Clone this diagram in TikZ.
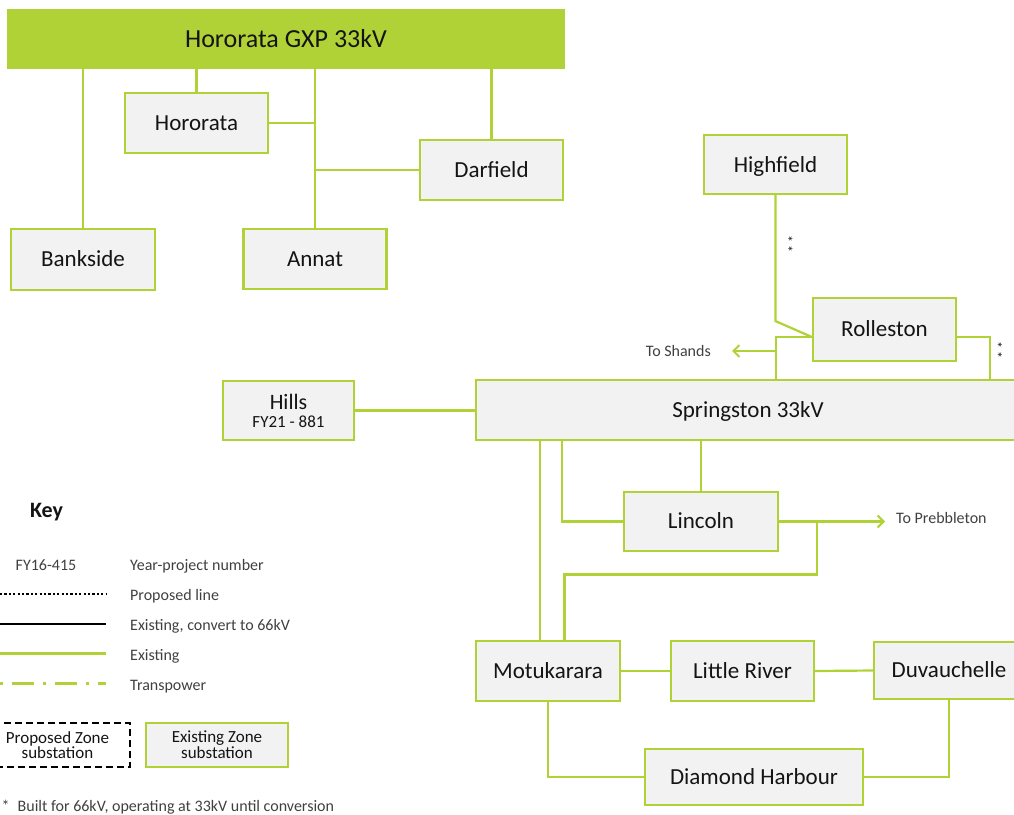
\documentclass[tikz,border=0pt]{standalone}
\usepackage{fontspec}
\setmainfont{Carlito}
\usetikzlibrary{arrows.meta,calc}
\definecolor{lime}{RGB}{176,210,54}
\definecolor{boxfill}{RGB}{242,242,242}
\definecolor{ink}{RGB}{20,20,20}
\definecolor{note}{RGB}{64,64,64}

\begin{document}
\begin{tikzpicture}[x=1pt,y=-1pt,
  line/.style={draw=lime, line width=2.2pt},
  sub/.style={draw=lime, fill=boxfill, line width=2.2pt, inner sep=0pt, text=ink,
    font=\fontsize{23}{27}\selectfont, text height=14.5pt, text depth=0pt},
  feed/.style={line, -{Straight Barb[length=6pt,width=12pt,line width=2pt]}},
  small/.style={text=note, font=\fontsize{16}{18}\selectfont, inner sep=0pt},
  stars/.style={text=ink, font=\fontsize{14}{14}\selectfont, inner sep=0pt, rotate=-90},
  keytext/.style={text=note, font=\fontsize{17}{14.4}\selectfont, inner sep=0pt, align=center},
]
\clip (0,0) rectangle (1014,814);

% ---- Hororata GXP group ----
\node[fill=lime, minimum width=558pt, minimum height=60pt, inner sep=0pt, text=ink,
  font=\fontsize{26}{30}\selectfont, text height=16.4pt, text depth=0pt] (gxp) at (286,39) {Hororata GXP 33kV};
\node[sub, minimum width=143pt, minimum height=60pt] (hororata) at (196.5,123) {Hororata};
\node[sub, minimum width=143pt, minimum height=60pt] (darfield) at (491.5,170) {Darfield};
\node[sub, minimum width=144pt, minimum height=61pt] (bankside) at (83,259.5) {Bankside};
\node[sub, minimum width=143pt, minimum height=60pt] (annat) at (315,259) {Annat};

\draw[line] (bankside.north) -- (bankside.north |- gxp.south);
\draw[line] (hororata.north) -- (hororata.north |- gxp.south);
\draw[line] (annat.north) -- (annat.north |- gxp.south);
\draw[line] (hororata.east) -- (hororata.east -| annat.north);
\draw[line] (darfield.west) -- (darfield.west -| annat.north);
\draw[line] (darfield.north) -- (darfield.north |- gxp.south);

% ---- Springston group ----
\node[sub, minimum width=143pt, minimum height=59pt, text height=16pt] (highfield) at (775.5,164.5) {Highfield};
\node[sub, minimum width=143pt, minimum height=63pt] (rolleston) at (884.5,329.5) {Rolleston};
\node[sub, minimum width=544pt, minimum height=60pt] (springston) at (748,410) {Springston 33kV};
\node[sub, minimum width=131pt, minimum height=59pt, align=center, text height=, text depth=,
  font=\fontsize{22}{18}\selectfont]
  (hills) at (288.5,410.5) {Hills\\{\fontsize{17}{18}\selectfont FY21 - 881}};
\node[sub, minimum width=154pt, minimum height=59pt] (lincoln) at (701,521.5) {Lincoln};
\node[sub, minimum width=144pt, minimum height=60pt] (motukarara) at (548,671) {Motukarara};
\node[sub, minimum width=143pt, minimum height=60pt] (littleriver) at (742.5,671) {Little River};
\node[sub, minimum width=150pt, minimum height=57pt] (duvauchelle) at (949,670.5) {Duvauchelle};
\node[sub, minimum width=218pt, minimum height=56pt] (diamond) at (754,777) {Diamond Harbour};

% Highfield - Rolleston
\draw[line] (highfield.south) -- ($(highfield.south)+(0,126)$) -- ($(rolleston.west)+(0,7.5)$);
\node[stars] (star1) at (787.5,244) {*\kern3pt*};
% Rolleston - Springston, both sides
\draw[line] ($(rolleston.west)+(0,7.5)$) -| ($(springston.north west)+(301,0)$);
\draw[line] ($(rolleston.east)+(0,7.5)$) -| ($(springston.north west)+(515,0)$);
\node[stars] (star2) at (997,350) {*\kern3pt*};
% Shands feeder
\coordinate (shandsj) at (777,351);
\coordinate (shandstip) at (732,351);
\draw[feed] (shandsj) -- (shandstip);
\node[small, anchor=base east] (shands) at (711,356) {To Shands};

% Hills
\draw[line] (hills.east) -- (hills.east -| springston.west);

% Springston to Lincoln and Motukarara
\draw[line] ($(springston.south west)+(65,0)$) coordinate (m1) -- (m1 |- motukarara.north);
\draw[line] ($(springston.south west)+(87,0)$) |- (lincoln.west);
\draw[line] (lincoln.north) -- (lincoln.north |- springston.south);

% Lincoln to Prebbleton and Motukarara
\coordinate (prebtip) at (885,521.5);
\draw[feed] (lincoln.east) -- (prebtip);
\node[small, anchor=base west] (prebbleton) at (896,523) {To Prebbleton};
\draw[line] ($(lincoln.east)+(37.5,0)$) -- ++(0,53) -| ($(motukarara.north west)+(89.5,0)$);

% Banks Peninsula ring
\draw[line] (motukarara.east) -- (littleriver.west);
\draw[line] (littleriver.east) -- (duvauchelle.west);
\draw[line] (motukarara.south) |- (diamond.west);
\draw[line] (duvauchelle.south) |- (diamond.east);

% ---- Key ----
\node[text=ink, inner sep=0pt, anchor=base, font=\fontsize{22}{24}\selectfont\bfseries] (key) at (46.5,517) {Key};
\node[small, anchor=base] (keyfy) at (46,570) {FY16-415};
\node[small, anchor=base west] (k1) at (130,570) {Year-project number};
\node[small, anchor=base west] (k2) at (130,600) {Proposed line};
\node[small, anchor=base west] (k3) at (130,630) {Existing, convert to 66kV};
\node[small, anchor=base west] (k4) at (130,660) {Existing};
\node[small, anchor=base west] (k5) at (130,690) {Transpower};

\draw[black, line width=2.4pt, dash pattern=on 2.2pt off 2.2pt] (0,594) -- (106,594);
\draw[black, line width=2.6pt] (0,624) -- (106,624);
\draw[lime, line width=2.2pt] (0,653.5) -- (106,653.5);
\draw[lime, line width=2.2pt, dash pattern=on 22pt off 9pt on 3pt off 9pt, dash phase=-12pt] (0,683.5) -- (106,683.5);

\node[draw=black, line width=2pt, dash pattern=on 7pt off 4pt, minimum width=145pt, minimum height=44pt,
  inner sep=0pt, keytext, text=ink] (propzone) at (57.5,745) {Proposed Zone\\substation};
\node[draw=lime, fill=boxfill, line width=2pt, minimum width=142pt, minimum height=44pt,
  inner sep=0pt, keytext, text=ink] (existzone) at (217,745) {Existing Zone\\substation};

\node[small, anchor=base west] (footnote) at (1.5,811) {*\hspace{8pt}Built for 66kV, operating at 33kV until conversion};
\end{tikzpicture}
\end{document}
